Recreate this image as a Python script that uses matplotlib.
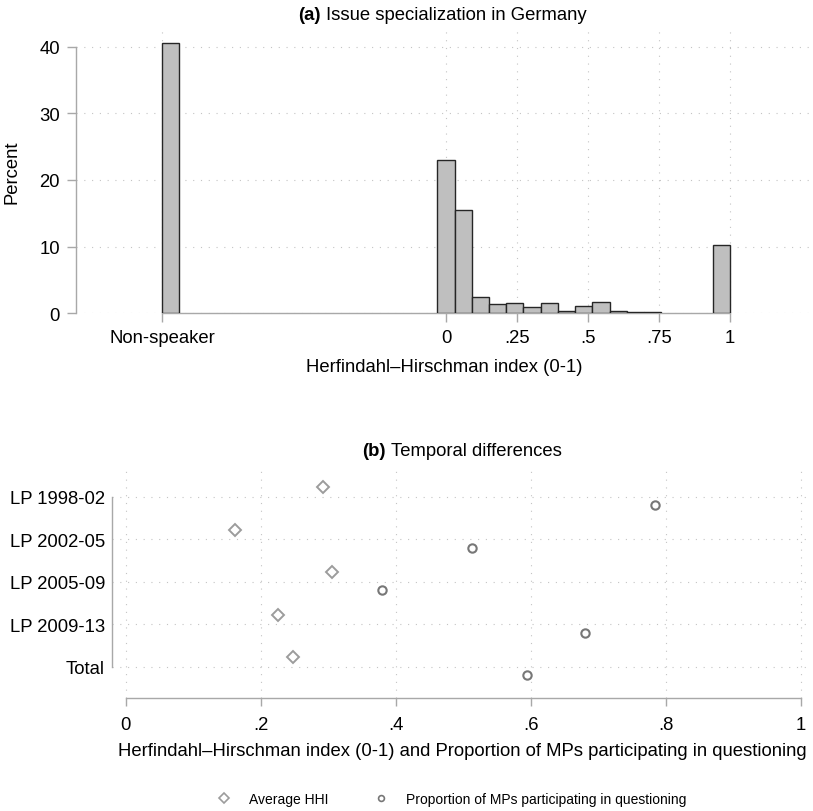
import matplotlib
matplotlib.use('Agg')
import matplotlib.pyplot as plt
from matplotlib.lines import Line2D
import numpy as np

plt.rcParams['font.family'] = ['Liberation Sans', 'DejaVu Sans']

# panel (a): histogram, percent per bin (bin width 2/33, bins start at -1)
nonspeaker_pct = 40.6
hhi_pct = [23.05, 15.5, 2.4, 1.4, 1.55, 0.9, 1.55, 0.4, 1.1, 1.75,
           0.4, 0.15, 0.15, 0, 0, 0, 10.25]
hist_ticks = [-1, 0, 0.25, 0.5, 0.75, 1]
hist_ticklabels = ['Non-speaker', '0', '.25', '.5', '.75', '1']

# panel (b): temporal differences
periods = ['LP 1998-02', 'LP 2002-05', 'LP 2005-09', 'LP 2009-13', 'Total']
avg_hhi = [0.292, 0.162, 0.306, 0.226, 0.248]
prop_mps = [0.784, 0.513, 0.380, 0.680, 0.594]

W, H = 813, 812
FS = 13.3
AXIS_GRAY = '#a8a8a8'
GRID_GRAY = '#c4c4c4'
GRID_LS = (0, (1, 6))


def fx(px):
    return px / W


def fy(py):
    return 1 - py / H


def style_axes(ax):
    for s in ['top', 'right']:
        ax.spines[s].set_visible(False)
    for s in ['left', 'bottom']:
        ax.spines[s].set_color(AXIS_GRAY)
        ax.spines[s].set_linewidth(1.0)
    ax.grid(True, linestyle=GRID_LS, color=GRID_GRAY, linewidth=0.8)
    ax.set_axisbelow(True)
    ax.tick_params(labelsize=FS, colors=AXIS_GRAY, labelcolor='black', width=1.0)


def panel_title(fig, tag, text, cx, cy):
    r = fig.canvas.get_renderer()
    t1 = fig.text(0, fy(cy), tag, weight='bold', size=FS, va='center')
    t2 = fig.text(0, fy(cy), text, size=FS, va='center')
    w1 = t1.get_window_extent(r).width
    w2 = t2.get_window_extent(r).width
    gap = 0.278 * FS * fig.dpi / 72
    x0 = cx - (w1 + gap + w2) / 2
    t1.set_x(fx(x0))
    t2.set_x(fx(x0 + w1 + gap))


fig = plt.figure(figsize=(W / 100, H / 100), dpi=100)

# ---- panel (a)
ax1 = fig.add_axes([fx(76), fy(314.3), fx(812) - fx(76), (314.3 - 30) / H])
style_axes(ax1)
width = 2 / 33
heights = [nonspeaker_pct] + [0] * 15 + hhi_pct
lefts = -1 + width * np.arange(len(heights))
heights = np.array(heights)
keep = heights > 0
ax1.bar(lefts[keep], heights[keep], width=width, align='edge',
        color='#bfbfbf', edgecolor='#262626', linewidth=1.0, zorder=3)
ax1.set_xlim(-1.3028, 1.2887)
ax1.set_ylim(0, 42.65)
ax1.set_xticks(hist_ticks)
ax1.set_xticklabels(hist_ticklabels)
ax1.set_yticks([0, 10, 20, 30, 40])
ax1.spines['left'].set_bounds(0, 40)
ax1.spines['bottom'].set_bounds(-1, 1)
ax1.tick_params(axis='both', length=6.5, pad=5)
fig.text(fx(11.7), fy(172), 'Percent', rotation=90, size=FS, ha='center', va='center')
fig.text(fx(444), fy(368), 'Herfindahl\u2013Hirschman index (0-1)', size=FS,
         ha='center', va='center')

# ---- panel (b)
ax2 = fig.add_axes([fx(112), fy(699), fx(812) - fx(112), (699 - 467) / H])
style_axes(ax2)
pos = np.arange(len(periods))
ax2.plot(avg_hhi, pos - 0.22, linestyle='none', marker='D', ms=6.2,
         mfc='none', mec='#9c9c9c', mew=1.4, zorder=3)
ax2.plot(prop_mps, pos + 0.2, linestyle='none', marker='o', ms=6.0,
         mfc='none', mec='#777777', mew=1.5, zorder=3)
ax2.set_xlim(-0.0204, 1.0166)
ax2.set_ylim(4.742, -0.723)
ax2.set_yticks(pos)
ax2.set_yticklabels(periods)
ax2.set_xticks([0, 0.2, 0.4, 0.6, 0.8, 1])
ax2.set_xticklabels(['0', '.2', '.4', '.6', '.8', '1'])
ax2.spines['left'].set_bounds(0, 4)
ax2.spines['bottom'].set_bounds(0, 1)
ax2.tick_params(axis='x', length=5.5, pad=7.5)
ax2.tick_params(axis='y', length=0, pad=5)
fig.text(fx(462), fy(752), 'Herfindahl\u2013Hirschman index (0-1) and Proportion of MPs '
         'participating in questioning', size=FS, ha='center', va='center')

handles = [
    Line2D([], [], linestyle='none', marker='D', ms=4.6, mfc='none', mec='#9c9c9c', mew=1.2),
    Line2D([], [], linestyle='none', marker='o', ms=4.2, mfc='none', mec='#777777', mew=1.2),
]
fig.legend(handles, ['Average HHI', 'Proportion of MPs participating in questioning'],
           loc='center', bbox_to_anchor=(fx(452), fy(800)), ncol=2, frameon=False,
           fontsize=10, handlelength=1.0, handletextpad=1.3, columnspacing=3.3)

panel_title(fig, '(a)', 'Issue specialization in Germany', 442, 15)
panel_title(fig, '(b)', 'Temporal differences', 462, 451.7)

fig.savefig('out.png', dpi=100)
